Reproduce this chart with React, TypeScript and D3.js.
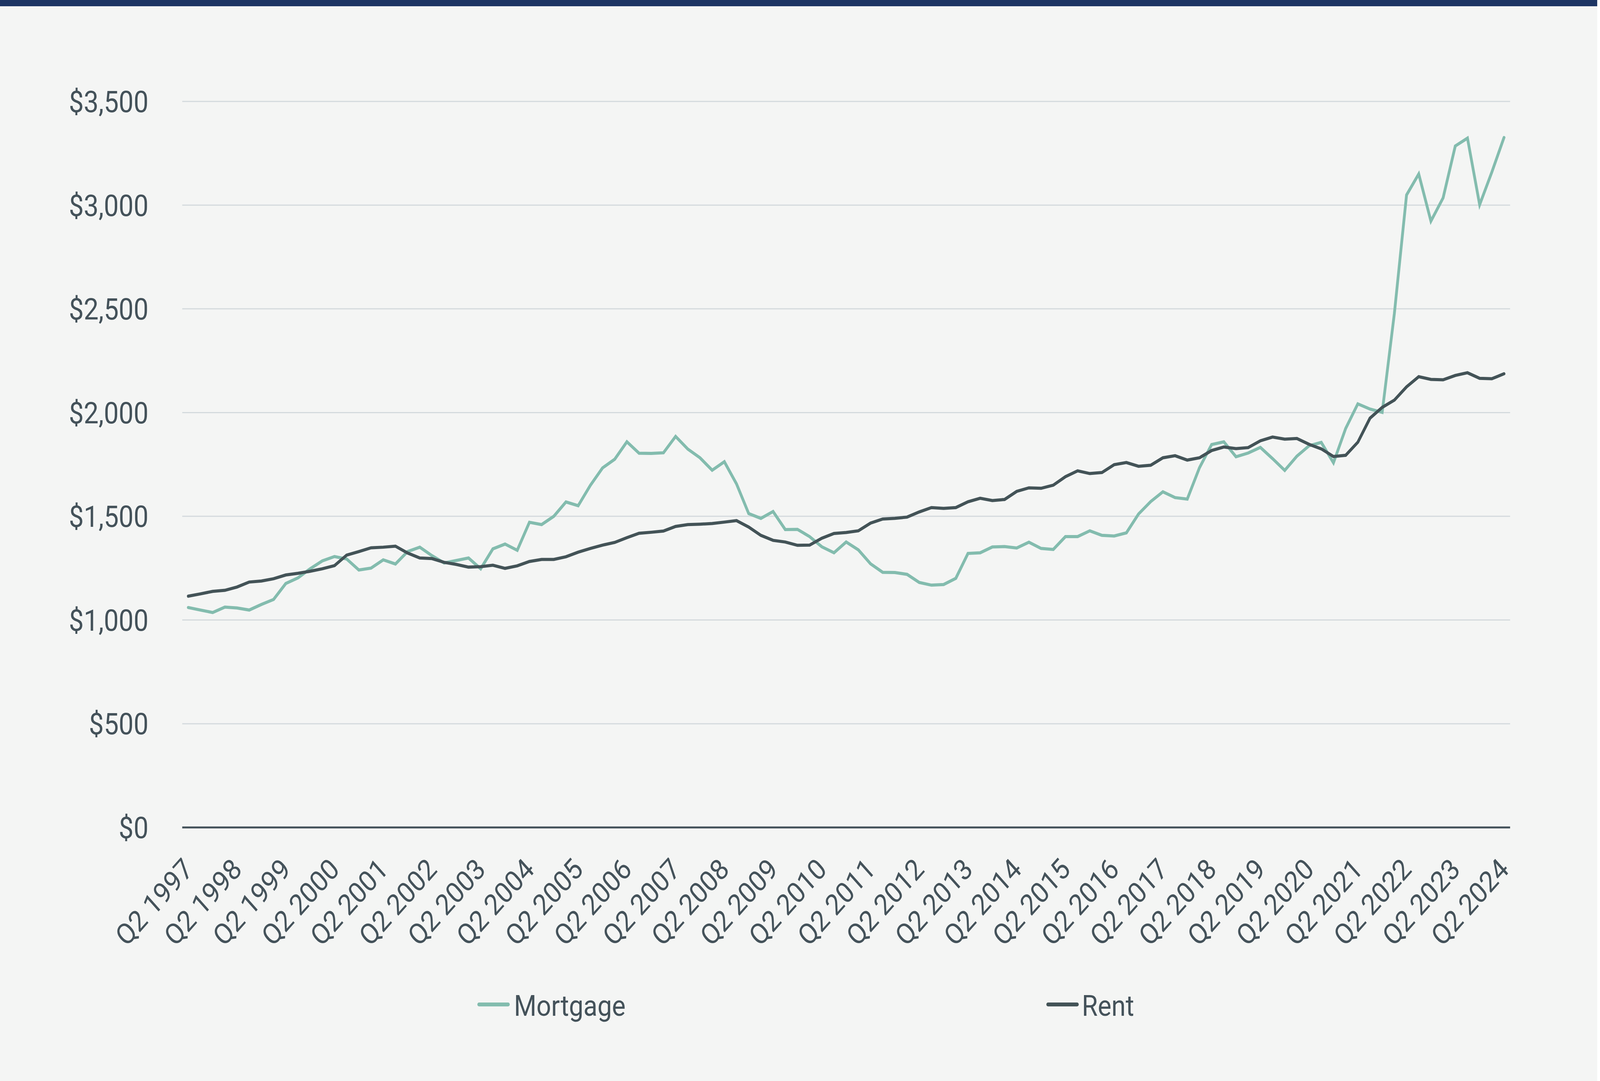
import React from "react";
import * as d3 from "d3";

const START_YEAR = 1997;
const START_QUARTER = 2;

const MORTGAGE: number[] = [
  1060, 1048, 1036, 1062, 1058, 1048, 1075, 1099, 1176, 1203,
  1247, 1285, 1306, 1294, 1241, 1250, 1290, 1270, 1330, 1351,
  1310, 1275, 1287, 1299, 1247, 1343, 1366, 1336, 1471, 1460,
  1500, 1569, 1551, 1649, 1733, 1775, 1859, 1804, 1803, 1806,
  1885, 1824, 1782, 1722, 1763, 1656, 1513, 1490, 1523, 1436,
  1437, 1402, 1353, 1324, 1376, 1338, 1271, 1230, 1229, 1220,
  1181, 1168, 1171, 1201, 1321, 1324, 1352, 1354, 1347, 1375,
  1345, 1340, 1402, 1402, 1430, 1408, 1405, 1420, 1511, 1571,
  1618, 1590, 1583, 1734, 1846, 1859, 1787, 1805, 1832, 1778,
  1721, 1790, 1840, 1856, 1758, 1923, 2042, 2017, 2001, 2478,
  3049, 3150, 2923, 3035, 3285, 3323, 3002, 3159, 3326,
];

const RENT: number[] = [
  1115, 1126, 1138, 1143, 1159, 1183, 1188, 1199, 1217, 1225,
  1235, 1247, 1262, 1313, 1330, 1348, 1351, 1356, 1323, 1299,
  1296, 1278, 1268, 1255, 1257, 1264, 1249, 1261, 1282, 1292,
  1292, 1305, 1327, 1345, 1361, 1374, 1397, 1418, 1423, 1429,
  1451, 1460, 1462, 1465, 1472, 1479, 1448, 1408, 1384, 1376,
  1360, 1361, 1394, 1417, 1422, 1430, 1467, 1487, 1490, 1496,
  1521, 1542, 1538, 1542, 1570, 1587, 1576, 1581, 1620, 1637,
  1635, 1650, 1691, 1719, 1706, 1711, 1749, 1759, 1741, 1746,
  1782, 1792, 1771, 1782, 1817, 1834, 1826, 1831, 1864, 1882,
  1872, 1875, 1847, 1825, 1788, 1794, 1857, 1973, 2025, 2060,
  2124, 2173, 2160, 2158, 2179, 2192, 2165, 2163, 2187,
];

const QUARTERS: string[] = MORTGAGE.map((_, i) => {
  const q0 = START_QUARTER - 1 + i;
  return `Q${(q0 % 4) + 1} ${START_YEAR + Math.floor(q0 / 4)}`;
});

const TICK_LABELS: string[] = [
  "Q2 1997", "Q2 1998", "Q2 1999", "Q2 2000", "Q2 2001", "Q2 2002", "Q2 2003",
  "Q2 2004", "Q2 2005", "Q2 2006", "Q2 2007", "Q2 2008", "Q2 2009", "Q2 2010",
  "Q2 2011", "Q2 2012", "Q2 2013", "Q2 2014", "Q2 2015", "Q2 2016", "Q2 2017",
  "Q2 2018", "Q2 2019", "Q2 2020", "Q2 2021", "Q2 2022", "Q2 2023", "Q2 2024",
];

const Y_TICKS: number[] = [0, 500, 1000, 1500, 2000, 2500, 3000, 3500];

const SERIES = [
  { name: "Mortgage", values: MORTGAGE, color: "#83bcae" },
  { name: "Rent", values: RENT, color: "#435357" },
];

const W = 4592;
const H = 2768;
const TEXT = "#44525a";
const FONT = "Roboto, 'Liberation Sans', Arial, sans-serif";

export default function App() {
  const x = d3.scaleBand<string>().domain(QUARTERS).range([523, 4334]).padding(0);
  const cx = (q: string) => (x(q) as number) + x.bandwidth() / 2;
  const y = d3.scaleLinear().domain([0, 3500]).range([2118.7, 259.7]);
  const fmt = (v: number) => "$" + d3.format(",")(v);

  const line = (vals: number[]) =>
    d3
      .line<number>()
      .x((_, i) => cx(QUARTERS[i]))
      .y((v) => y(v))(vals) as string;

  const legend = [
    { s: SERIES[0], x0: 1375, x1: 1458, tx: 1475 },
    { s: SERIES[1], x0: 3008, x1: 3091, tx: 3105 },
  ];

  return (
    <svg
      viewBox={`0 0 ${W} ${H}`}
      preserveAspectRatio="none"
      style={{
        position: "fixed",
        left: 0,
        top: 0,
        width: "100vw",
        height: "100vh",
        display: "block",
      }}
      fontFamily={FONT}
    >
      <rect x={0} y={0} width={W} height={H} fill="#ffffff" />
      <rect x={0} y={0} width={4584} height={H} fill="#f4f5f4" />
      <rect x={0} y={0} width={4584} height={16} fill="#1d3563" />

      {Y_TICKS.filter((t) => t > 0).map((t) => (
        <line key={t} x1={523} x2={4334} y1={y(t)} y2={y(t)} stroke="#d4dadd" strokeWidth={3} />
      ))}
      <line x1={523} x2={4334} y1={y(0)} y2={y(0)} stroke={TEXT} strokeWidth={5} />

      {Y_TICKS.map((t) => (
        <text key={t} x={426} y={y(t)} dy="0.36em" textAnchor="end" fontSize={76} fill={TEXT}>
          {fmt(t)}
        </text>
      ))}

      {TICK_LABELS.map((lab) => (
        <text
          key={lab}
          transform={`translate(${cx(lab) - 19},2193) rotate(-45)`}
          dy="0.71em"
          textAnchor="end"
          fontSize={74}
          fill={TEXT}
        >
          {lab}
        </text>
      ))}

      {SERIES.map((s) => (
        <path
          key={s.name}
          d={line(s.values)}
          fill="none"
          stroke={s.color}
          strokeWidth={8}
          strokeLinecap="round"
          strokeLinejoin="miter"
        />
      ))}

      {legend.map(({ s, x0, x1, tx }) => (
        <g key={s.name}>
          <line x1={x0} x2={x1} y1={2572} y2={2572} stroke={s.color} strokeWidth={10} strokeLinecap="round" />
          <text x={tx} y={2601} fontSize={74} fill={TEXT}>
            {s.name}
          </text>
        </g>
      ))}
    </svg>
  );
}
